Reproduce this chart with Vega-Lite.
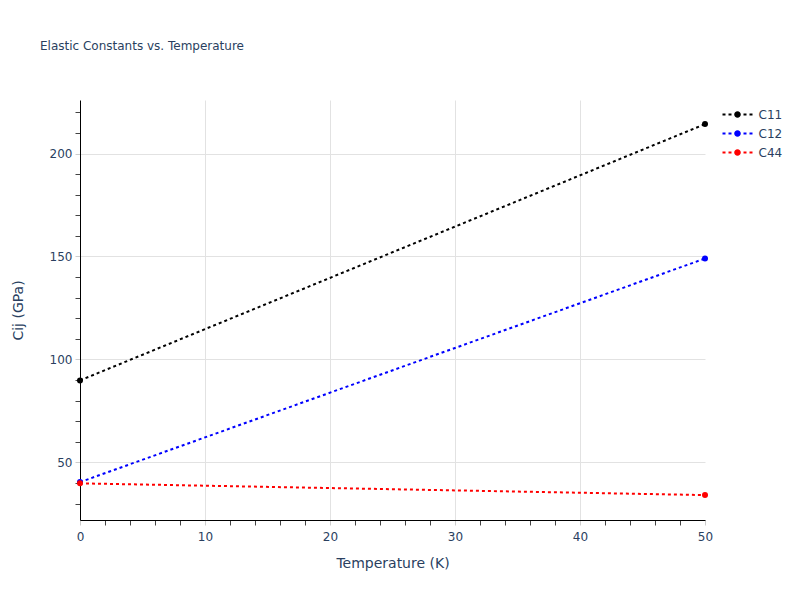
{
  "$schema": "https://vega.github.io/schema/vega-lite/v6.json",
  "width": 625,
  "height": 420,
  "autosize": {"type": "none"},
  "padding": {"left": 80, "top": 100, "right": 95, "bottom": 80},
  "background": "white",
  "title": {
    "text": "Elastic Constants vs. Temperature",
    "anchor": "start",
    "frame": "group",
    "dx": -40,
    "offset": 47,
    "fontSize": 12,
    "font": "DejaVu Sans",
    "fontWeight": "normal",
    "color": "#2a3f5f"
  },
  "config": {"view": {"stroke": null}, "font": "DejaVu Sans"},
  "data": {
    "values": [
      {"T": 0, "Cij": 89.8, "series": "C11"},
      {"T": 50, "Cij": 214.3, "series": "C11"},
      {"T": 0, "Cij": 40.4, "series": "C12"},
      {"T": 50, "Cij": 149.0, "series": "C12"},
      {"T": 0, "Cij": 39.8, "series": "C44"},
      {"T": 50, "Cij": 34.1, "series": "C44"}
    ]
  },
  "encoding": {
    "x": {
      "field": "T",
      "type": "quantitative",
      "scale": {"domain": [0, 50], "nice": false, "zero": false},
      "axis": {
        "title": "Temperature (K)",
        "values": [0, 2, 4, 6, 8, 10, 12, 14, 16, 18, 20, 22, 24, 26, 28, 30, 32, 34, 36, 38, 40, 42, 44, 46, 48, 50],
        "labelExpr": "datum.value % 10 === 0 ? datum.label : ''",
        "labelOverlap": false,
        "labelFlush": false,
        "labelFontSize": 12,
        "labelColor": "#2a3f5f",
        "labelPadding": 6,
        "titleFontSize": 14,
        "titleFontWeight": "normal",
        "titleColor": "#2a3f5f",
        "titlePadding": 14,
        "grid": true,
        "gridColor": {"condition": {"test": "datum.value % 10 === 0 && datum.value > 0 && datum.value < 50", "value": "#e2e2e2"}, "value": "transparent"},
        "domainColor": "#000000",
        "tickSize": 5,
        "tickColor": {"condition": {"test": "datum.value % 10 === 0", "value": "#cccccc"}, "value": "#444444"}
      }
    },
    "y": {
      "field": "Cij",
      "type": "quantitative",
      "scale": {"domain": [22, 226], "nice": false, "zero": false},
      "axis": {
        "title": "Cij (GPa)",
        "values": [30, 40, 50, 60, 70, 80, 90, 100, 110, 120, 130, 140, 150, 160, 170, 180, 190, 200, 210, 220],
        "labelExpr": "datum.value % 50 === 0 ? datum.label : ''",
        "labelOverlap": false,
        "labelFlush": false,
        "labelFontSize": 12,
        "labelColor": "#2a3f5f",
        "labelPadding": 3,
        "titleFontSize": 14,
        "titleFontWeight": "normal",
        "titleColor": "#2a3f5f",
        "titlePadding": 24,
        "grid": true,
        "gridColor": {"condition": {"test": "datum.value % 50 === 0", "value": "#e2e2e2"}, "value": "transparent"},
        "domainColor": "#000000",
        "tickSize": 5,
        "tickColor": {"condition": {"test": "datum.value % 50 === 0", "value": "#cccccc"}, "value": "#444444"}
      }
    },
    "color": {
      "field": "series",
      "type": "nominal",
      "scale": {"domain": ["C11", "C12", "C44"], "range": ["#000000", "#0000ff", "#ff0000"]},
      "legend": {
        "title": null,
        "orient": "right",
        "offset": 14,
        "padding": 7,
        "labelFontSize": 12,
        "labelColor": "#2a3f5f",
        "labelOffset": 13.5,
        "symbolType": "M-2,-0.133H-1.6V0.133H-2Z M-1.2,-0.133H-0.8V0.133H-1.2Z M0.8,-0.133H1.2V0.133H0.8Z M1.6,-0.133H2V0.133H1.6Z M-0.44,0A0.44,0.44 0 1,0 0.44,0A0.44,0.44 0 1,0 -0.44,0Z",
        "symbolSize": 225,
        "symbolStrokeWidth": 0,
        "symbolOpacity": 1,
        "rowPadding": 5
      }
    }
  },
  "layer": [
    {"mark": {"type": "line", "strokeDash": [3, 3], "strokeWidth": 2}},
    {"mark": {"type": "point", "filled": true, "size": 36, "opacity": 1}}
  ]
}
